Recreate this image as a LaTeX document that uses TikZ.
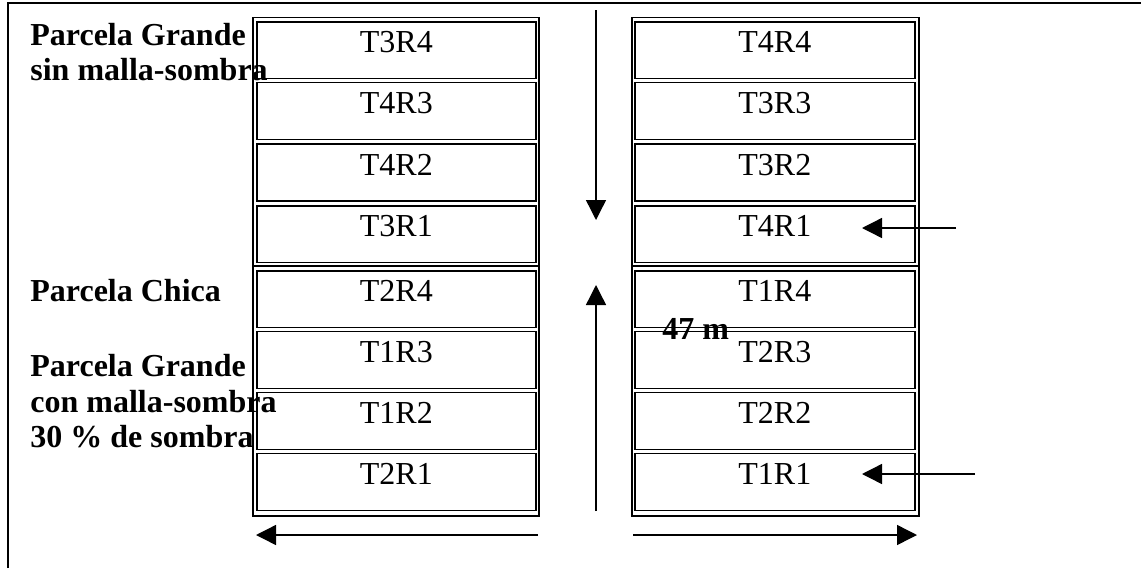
\documentclass[tikz,border=0pt]{standalone}
\usepackage{fontspec}
\setmainfont{Liberation Serif}
\usetikzlibrary{arrows.meta}
\begin{document}
\begin{tikzpicture}[x=0.5pt,y=-0.5pt,
  frame/.style={line width=0.9pt},
  tline/.style={line width=0.8pt},
  tbl/.style={draw, line width=0.8pt, inner sep=0pt, anchor=north west},
  cell/.style={draw, line width=0.8pt, minimum width=139.5pt, minimum height=28.4pt,
    inner sep=0pt, anchor=north west, text height=8pt, text depth=5.4pt,
    font=\fontsize{16}{19}\selectfont},
  lbl/.style={anchor=base west, inner sep=0pt, font=\bfseries\fontsize{16}{19}\selectfont},
  arr/.style={line width=0.7pt, -{Triangle[length=10pt,width=10pt]}}]
\useasboundingbox (0,0) rectangle (1141,568);
\draw[frame] (8,568) -- (8,3) -- (1141,3);
% outer table borders
\node[tbl, minimum width=143pt, minimum height=249.15pt] (tabL) at (252,16.7) {};
\node[tbl, minimum width=143.5pt, minimum height=249.15pt] (tabR) at (631,16.7) {};
\draw[tline] (252,265.7) -- (538,265.7);
\draw[tline] (631,265.7) -- (918,265.7);
% cells
\foreach \y/\n/\a/\b in {21/1/T3R4/T4R4, 81.7/2/T4R3/T3R3, 143.3/3/T4R2/T3R2, 205/4/T3R1/T4R1,
  270/5/T2R4/T1R4, 330.7/6/T1R3/T2R3, 391.7/7/T1R2/T2R2, 452.7/8/T2R1/T1R1}{
  \node[cell] (L\n) at (256,\y) {\a};
  \node[cell, minimum width=140pt] (R\n) at (634,\y) {\b};
}
% labels
\node[lbl] (pg1) at (30,45) {Parcela Grande};
\node[lbl] (pg2) at (30,80.5) {sin malla-sombra};
\node[lbl] (pc) at (30,301.7) {Parcela Chica};
\node[lbl] (pg3) at (30,376) {Parcela Grande};
\node[lbl] (pg4) at (30,412) {con malla-sombra};
\node[lbl] (pg5) at (30,447) {30 \% de sombra};
\node[lbl] (len) at (662,339.3) {47 m};
% arrows
\coordinate (dTop) at (596,10);
\coordinate (dTip) at (596,220);
\draw[arr] (dTop) -- (dTip);
\coordinate (uBot) at (596,511);
\coordinate (uTip) at (596,285);
\draw[arr] (uBot) -- (uTip);
\coordinate (blS) at (538,535);
\coordinate (blT) at (256,535);
\draw[arr] (blS) -- (blT);
\coordinate (brS) at (633,535);
\coordinate (brT) at (917,535);
\draw[arr] (brS) -- (brT);
\coordinate (a1S) at (956,228);
\coordinate (a1T) at (862,228);
\draw[arr] (a1S) -- (a1T);
\coordinate (a2S) at (975,474);
\coordinate (a2T) at (862,474);
\draw[arr] (a2S) -- (a2T);
\end{tikzpicture}
\end{document}
